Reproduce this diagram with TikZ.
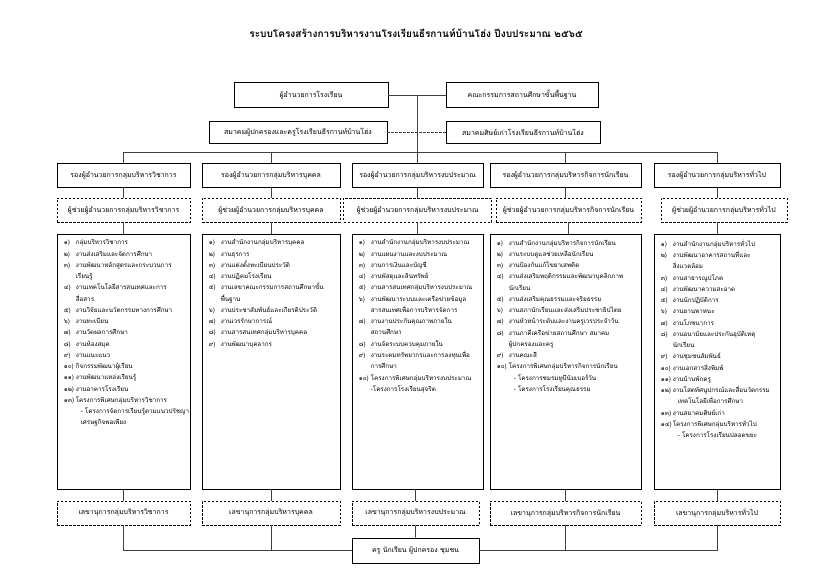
\documentclass[tikz,border=0pt]{standalone}
\usepackage{fontspec}
\setmainfont[Script=Thai]{Loma}
\usetikzlibrary{calc,positioning}
\tikzstyle{headbox} = [rectangle, draw=black, line width=0.8bp, minimum height=25bp, inner sep=2bp, text centered, fill=white, font=\fontsize{7}{8}\selectfont]
\tikzstyle{deputy} = [headbox, minimum height=24bp]
\tikzstyle{dashbox} = [deputy, dash pattern=on 2.5bp off 1.5bp]
\tikzstyle{worklist} = [rectangle, draw=black, line width=0.8bp, minimum height=255bp]
\tikzstyle{listtext} = [anchor=north west, align=left, inner sep=0pt, font=\fontsize{6.3}{11.3}\selectfont]
\tikzstyle{link} = [draw=black!75, line width=0.8bp]
\tikzstyle{dashlink} = [link, dash pattern=on 2.5bp off 1.5bp]
\newcommand{\itm}[2]{\makebox[12bp][l]{#1}#2}
\newcommand{\cont}[1]{\hspace*{12bp}#1}
\newcommand{\subitm}[1]{\hspace*{17bp}#1}

\begin{document}
\begin{tikzpicture}[x=1bp, y=1bp, node distance=35bp]
			\useasboundingbox (0,0) rectangle (832,-582);
			\node (title) at (416,-33) {\fontsize{10.1}{12}\selectfont\bfseries ระบบโครงสร้างการบริหารงานโรงเรียนธีรกานท์บ้านโฮ่ง ปีงบประมาณ ๒๕๖๕};
			
			\node (dir) [headbox, minimum width=154bp] at (311,-95) {ผู้อำนวยการโรงเรียน};
			\node (board) [headbox, minimum width=152bp] at (522,-95) {คณะกรรมการสถานศึกษาขั้นพื้นฐาน};
			\node (parent) [headbox, minimum width=178bp, minimum height=22bp] at (298,-132) {สมาคมผู้ปกครองและครูโรงเรียนธีรกานท์บ้านโฮ่ง};
			\node (alumni) [headbox, minimum width=154bp, minimum height=22bp] at (523,-132) {สมาคมศิษย์เก่าโรงเรียนธีรกานท์บ้านโฮ่ง};
			
			%deputies
			\node (d1) [deputy, minimum width=133bp] at (123.5,-175) {รองผู้อำนวยการกลุ่มบริหารวิชาการ};
			\node (d2) [deputy, minimum width=138bp] at (271,-175) {รองผู้อำนวยการกลุ่มบริหารบุคคล};
			\node (d3) [deputy, minimum width=131bp] at (417.5,-175) {รองผู้อำนวยการกลุ่มบริหารงบประมาณ};
			\node (d4) [deputy, minimum width=151bp] at (565.5,-175) {รองผู้อำนวยการกลุ่มบริหารกิจการนักเรียน};
			\node (d5) [deputy, minimum width=126bp] at (717,-175) {รองผู้อำนวยการกลุ่มบริหารทั่วไป};
			
			%assistants
			\node (a1) [dashbox, minimum width=133bp, below of=d1] {ผู้ช่วยผู้อำนวยการกลุ่มบริหารวิชาการ};
			\node (a2) [dashbox, minimum width=138bp, below of=d2] {ผู้ช่วยผู้อำนวยการกลุ่มบริหารบุคคล};
			\node (a3) [dashbox, minimum width=148bp, below of=d3] {ผู้ช่วยผู้อำนวยการกลุ่มบริหารงบประมาณ};
			\node (a4) [dashbox, minimum width=145bp, below of=d4, xshift=3bp] {ผู้ช่วยผู้อำนวยการกลุ่มบริหารกิจการนักเรียน};
			\node (a5) [dashbox, minimum width=126bp, below of=d5, xshift=7bp] {ผู้ช่วยผู้อำนวยการกลุ่มบริหารทั่วไป};
			
			%work lists
			\node (l1) [worklist, minimum width=133bp, node distance=186.5bp, below of=d1] {};
			\node (l2) [worklist, minimum width=138bp, node distance=186.5bp, below of=d2] {};
			\node (l3) [worklist, minimum width=131bp, node distance=186.5bp, below of=d3] {};
			\node (l4) [worklist, minimum width=151bp, node distance=186.5bp, below of=d4] {};
			\node (l5) [worklist, minimum width=126bp, node distance=186.5bp, below of=d5] {};
			
			\node (t1) [listtext] at ([shift={(7bp,-6bp)}]l1.north west) {\itm{๑)}{กลุ่มบริหารวิชาการ}\\
				\itm{๒)}{งานส่งเสริมและจัดการศึกษา}\\
				\itm{๓)}{งานพัฒนาหลักสูตรและกระบวนการ}\\
				\cont{เรียนรู้}\\
				\itm{๔)}{งานเทคโนโลยีสารสนเทศและการ}\\
				\cont{สื่อสาร}\\
				\itm{๕)}{งานวิจัยและนวัตกรรมทางการศึกษา}\\
				\itm{๖)}{งานทะเบียน}\\
				\itm{๗)}{งานวัดผลการศึกษา}\\
				\itm{๘)}{งานห้องสมุด}\\
				\itm{๙)}{งานแนะแนว}\\
				\itm{๑๐)}{กิจกรรมพัฒนาผู้เรียน}\\
				\itm{๑๑)}{งานพัฒนาแหล่งเรียนรู้}\\
				\itm{๑๒)}{งานอาคารโรงเรียน}\\
				\itm{๑๓)}{โครงการพิเศษกลุ่มบริหารวิชาการ}\\
				\subitm{- โครงการจัดการเรียนรู้ตามแนวปรัชญา}\\
				\subitm{เศรษฐกิจพอเพียง}};
			\node (t2) [listtext] at ([shift={(7bp,-6bp)}]l2.north west) {\itm{๑)}{งานสำนักงานกลุ่มบริหารบุคคล}\\
				\itm{๒)}{งานธุรการ}\\
				\itm{๓)}{งานแต่งตั้งทะเบียนประวัติ}\\
				\itm{๔)}{งานปฏิคมโรงเรียน}\\
				\itm{๕)}{งานเลขาคณะกรรมการสถานศึกษาขั้น}\\
				\cont{พื้นฐาน}\\
				\itm{๖)}{งานประชาสัมพันธ์และเกียรติประวัติ}\\
				\itm{๗)}{งานเวรรักษาการณ์}\\
				\itm{๘)}{งานสารสนเทศกลุ่มบริหารบุคคล}\\
				\itm{๙)}{งานพัฒนาบุคลากร}};
			\node (t3) [listtext] at ([shift={(7bp,-6bp)}]l3.north west) {\itm{๑)}{งานสำนักงานกลุ่มบริหารงบประมาณ}\\
				\itm{๒)}{งานแผนงานและงบประมาณ}\\
				\itm{๓)}{งานการเงินและบัญชี}\\
				\itm{๔)}{งานพัสดุและสินทรัพย์}\\
				\itm{๕)}{งานสารสนเทศกลุ่มบริหารงบประมาณ}\\
				\itm{๖)}{งานพัฒนาระบบและเครือข่ายข้อมูล}\\
				\cont{สารสนเทศเพื่อการบริหารจัดการ}\\
				\itm{๗)}{งานงานประกันคุณภาพภายใน}\\
				\cont{สถานศึกษา}\\
				\itm{๘)}{งานจัดระบบควบคุมภายใน}\\
				\itm{๙)}{งานระดมทรัพยากรและการลงทุนเพื่อ}\\
				\cont{การศึกษา}\\
				\itm{๑๐)}{โครงการพิเศษกลุ่มบริหารงบประมาณ}\\
				\cont{-โครงการโรงเรียนสุจริต}};
			\node (t4) [listtext] at ([shift={(7bp,-6bp)}]l4.north west) {\itm{๑)}{งานสำนักงานกลุ่มบริหารกิจการนักเรียน}\\
				\itm{๒)}{งานระบบดูแลช่วยเหลือนักเรียน}\\
				\itm{๓)}{งานป้องกันแก้ไขยาเสพติด}\\
				\itm{๔)}{งานส่งเสริมพฤติกรรมและพัฒนาบุคลิกภาพ}\\
				\cont{นักเรียน}\\
				\itm{๕)}{งานส่งเสริมคุณธรรมและจริยธรรม}\\
				\itm{๖)}{งานสภานักเรียนและส่งเสริมประชาธิปไตย}\\
				\itm{๗)}{งานหัวหน้าระดับและงานครูเวรประจำวัน}\\
				\itm{๘)}{งานภาคีเครือข่ายสถานศึกษา สมาคม}\\
				\cont{ผู้ปกครองและครู}\\
				\itm{๙)}{งานคณะสี}\\
				\itm{๑๐)}{โครงการพิเศษกลุ่มบริหารกิจการนักเรียน}\\
				\subitm{- โครงการชมรมทูบีนัมเบอร์วัน}\\
				\subitm{- โครงการโรงเรียนคุณธรรม}};
			\node (t5) [listtext] at ([shift={(7bp,-6bp)}]l5.north west) {\itm{๑)}{งานสำนักงานกลุ่มบริหารทั่วไป}\\
				\itm{๒)}{งานพัฒนาอาคารสถานที่และ}\\
				\cont{สิ่งแวดล้อม}\\
				\itm{๓)}{งานสาธารณูปโภค}\\
				\itm{๔)}{งานพัฒนาความสะอาด}\\
				\itm{๕)}{งานนักปฏิบัติการ}\\
				\itm{๖)}{งานยานพาหนะ}\\
				\itm{๗)}{งานโภชนาการ}\\
				\itm{๘)}{งานอนามัยและประกันอุบัติเหตุ}\\
				\cont{นักเรียน}\\
				\itm{๙)}{งานชุมชนสัมพันธ์}\\
				\itm{๑๐)}{งานเอกสารสิ่งพิมพ์}\\
				\itm{๑๑)}{งานบ้านพักครู}\\
				\itm{๑๒)}{งานโสตทัศนูปกรณ์และสื่อนวัตกรรม}\\
				\subitm{เทคโนโลยีเพื่อการศึกษา}\\
				\itm{๑๓)}{งานสมาคมศิษย์เก่า}\\
				\itm{๑๔)}{โครงการพิเศษกลุ่มบริหารทั่วไป}\\
				\subitm{- โครงการโรงเรียนปลอดขยะ}};
			
			%secretaries
			\node (s1) [dashbox, minimum width=133bp, node distance=151.5bp, below of=l1] {เลขานุการกลุ่มบริหารวิชาการ};
			\node (s2) [dashbox, minimum width=138bp, node distance=151.5bp, below of=l2] {เลขานุการกลุ่มบริหารบุคคล};
			\node (s3) [dashbox, minimum width=127bp, node distance=151.5bp, below of=l3, xshift=-2bp] {เลขานุการกลุ่มบริหารงบประมาณ};
			\node (s4) [dashbox, minimum width=151bp, node distance=151.5bp, below of=l4] {เลขานุการกลุ่มบริหารกิจการนักเรียน};
			\node (s5) [dashbox, minimum width=126bp, node distance=151.5bp, below of=l5] {เลขานุการกลุ่มบริหารทั่วไป};
			
			\node (people) [deputy, minimum width=127bp, minimum height=25bp] at (415.5,-550.5) {ครู นักเรียน ผู้ปกครอง ชุมชน};
			
			%lines
			\draw [link] (dir) -- (board);
			\draw [dashlink] (parent) -- (alumni);
			\coordinate (trunk) at ($(dir.east)!0.5!(board.west)$);
			\coordinate (bar) at ([yshift=10bp]d1.north);
			\draw [link] (trunk) -- (trunk |- bar);
			\draw [link] (d1.north) |- (bar) -| (d5.north);
			\draw [link] (d2.north) -- (d2.north |- bar);
			\draw [link] (d3.north) -- (d3.north |- bar);
			\draw [link] (d4.north) -- (d4.north |- bar);
			
			\draw [link] (d1.south) -- (d1.south |- a1.north);
			\draw [link] (d2.south) -- (d2.south |- a2.north);
			\draw [link] (d3.south) -- (d3.south |- a3.north);
			\draw [link] (d4.south) -- (d4.south |- a4.north);
			\draw [link] (d5.south) -- (d5.south |- a5.north);
			
			\draw [link] (a1.south) -- (a1.south |- l1.north);
			\draw [link] (a2.south) -- (a2.south |- l2.north);
			\draw [link] (a3.south) -- (a3.south |- l3.north);
			\draw [link] (a4.south) -- (a4.south |- l4.north);
			\draw [link] (l5.north) -- (l5.north |- a5.south);
			
			\draw [link] (l1) -- (s1);
			\draw [link] (l2) -- (s2);
			\draw [link] (s3.north) -- (s3.north |- l3.south);
			\draw [link] (l4) -- (s4);
			\draw [link] (l5) -- (s5);
			
			\draw [link] (s1.south) |- (people.west);
			\draw [link] (s5.south) |- (people.east);
			\draw [link] (s2.south) -- (s2.south |- people.west);
			\draw [link] (s4.south) -- (s4.south |- people.east);
			\draw [link] (s3.south) -- (people.north);
			
		\end{tikzpicture}
\end{document}
